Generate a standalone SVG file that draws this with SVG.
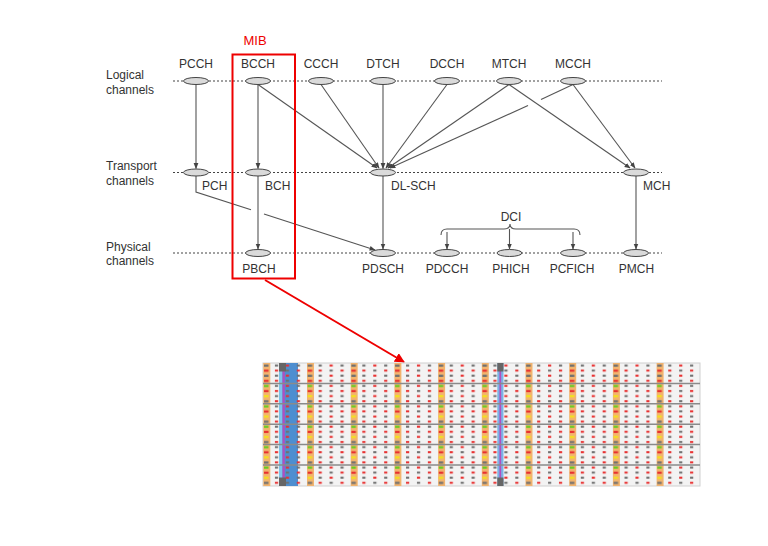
<svg xmlns="http://www.w3.org/2000/svg" width="768" height="546" viewBox="0 0 768 546">
<defs>
<style>
.t{font-family:"Liberation Sans",Arial,sans-serif;font-size:12px;fill:#333}
.c{text-anchor:middle}
.dot{stroke:#444;stroke-width:1.2;stroke-dasharray:2 2;fill:none}
.el{fill:#dadada;stroke:#444;stroke-width:1}
.ln{stroke:#555;stroke-width:1.1;fill:none}
.ar{stroke:#555;stroke-width:1.1;fill:none;marker-end:url(#ah)}
.hl{stroke:#8a8a8a;stroke-width:1.5}
</style>
<marker id="ah" viewBox="0 0 10 10" refX="9" refY="5" markerWidth="6" markerHeight="6" orient="auto" markerUnits="userSpaceOnUse"><path d="M0,1 L10,5 L0,9 z" fill="#444"/></marker>
<marker id="rah" viewBox="0 0 10 10" refX="9" refY="5" markerWidth="10" markerHeight="10" orient="auto" markerUnits="userSpaceOnUse"><path d="M0,0 L10,5 L0,10 z" fill="#e00"/></marker>
<pattern id="dash" patternUnits="userSpaceOnUse" x="263" y="363" width="21.85" height="10.2">
<rect x="1" y="1.5" width="3.2" height="2" fill="#e83030"/>
<rect x="11.9" y="1.5" width="3.2" height="2" fill="#707070"/>
<rect x="1" y="6.6" width="3.2" height="2" fill="#707070"/>
<rect x="11.9" y="6.6" width="3.2" height="2" fill="#e83030"/>
</pattern>
<pattern id="odash" patternUnits="userSpaceOnUse" x="263" y="363" width="43.7" height="20.4">
<rect x="1" y="1.5" width="4.5" height="2.2" fill="#66cc22"/>
<rect x="1" y="6.6" width="4.5" height="2.2" fill="#e83030"/>
<rect x="1" y="11.7" width="4.5" height="2.2" fill="#f2e020"/>
<rect x="1" y="16.8" width="4.5" height="2.2" fill="#707070"/>
</pattern>
<pattern id="odash0" patternUnits="userSpaceOnUse" x="263" y="363" width="43.7" height="10.2">
<rect x="1" y="1.5" width="4.5" height="2.2" fill="#707070"/>
<rect x="1" y="6.6" width="4.5" height="2.2" fill="#e83030"/>
</pattern>
</defs>
<rect width="768" height="546" fill="#fff"/>

<g id="layer-labels">
<text class="t" x="106" y="79">Logical</text>
<text class="t" x="106" y="94">channels</text>
<text class="t" x="106" y="169.5">Transport</text>
<text class="t" x="106" y="184.5">channels</text>
<text class="t" x="106" y="251">Physical</text>
<text class="t" x="106" y="265">channels</text>
</g>

<g id="dotted-lines">
<line class="dot" x1="173" y1="81" x2="662" y2="81"/>
<line class="dot" x1="173" y1="172.5" x2="662" y2="172.5"/>
<line class="dot" x1="173" y1="253" x2="662" y2="253"/>
</g>

<g id="connectors">
<line class="ar" x1="196" y1="84.5" x2="196" y2="168.5"/>
<line class="ar" x1="258" y1="84.5" x2="258" y2="168.5"/>
<line class="ar" x1="258" y1="176" x2="258" y2="249"/>
<polyline class="ln" points="196,176 196,192 251,209.8"/>
<line class="ar" x1="264" y1="214" x2="375" y2="250"/>
<line class="ar" x1="258" y1="84.5" x2="377" y2="168"/>
<line class="ar" x1="321" y1="84.5" x2="379" y2="168"/>
<line class="ar" x1="383" y1="84.5" x2="383" y2="168.5"/>
<line class="ar" x1="447" y1="84.5" x2="386" y2="168"/>
<line class="ar" x1="509" y1="84.5" x2="388" y2="168"/>
<line class="ln" x1="573" y1="84.5" x2="541" y2="99.5"/>
<line class="ar" x1="528" y1="105.5" x2="390" y2="168"/>
<line class="ar" x1="509" y1="84.5" x2="630" y2="168"/>
<line class="ar" x1="573" y1="84.5" x2="635" y2="168"/>
<line class="ar" x1="383" y1="176" x2="383" y2="249"/>
<line class="ar" x1="636" y1="176" x2="636" y2="249"/>
<path class="ln" d="M441,235 Q441,229 447,229 L504,229 Q510,229 510,224 Q510,229 516,229 L574,229 Q580,229 580,235"/>
<line class="ar" x1="447" y1="232" x2="447" y2="249"/>
<line class="ar" x1="509.5" y1="229" x2="509.5" y2="249"/>
<line class="ar" x1="573" y1="232" x2="573" y2="249"/>
<line stroke="#e00" stroke-width="2" marker-end="url(#rah)" x1="265" y1="280" x2="404" y2="362"/>
</g>

<g id="PCCH"><ellipse class="el" cx="196" cy="81" rx="12.5" ry="3.5"/><text class="t c" x="196" y="67.5">PCCH</text></g>
<g id="BCCH"><ellipse class="el" cx="258" cy="81" rx="12.5" ry="3.5"/><text class="t c" x="258" y="67.5">BCCH</text></g>
<g id="CCCH"><ellipse class="el" cx="321" cy="81" rx="12.5" ry="3.5"/><text class="t c" x="321" y="67.5">CCCH</text></g>
<g id="DTCH"><ellipse class="el" cx="383" cy="81" rx="12.5" ry="3.5"/><text class="t c" x="383" y="67.5">DTCH</text></g>
<g id="DCCH"><ellipse class="el" cx="447" cy="81" rx="12.5" ry="3.5"/><text class="t c" x="447" y="67.5">DCCH</text></g>
<g id="MTCH"><ellipse class="el" cx="509" cy="81" rx="12.5" ry="3.5"/><text class="t c" x="509" y="67.5">MTCH</text></g>
<g id="MCCH"><ellipse class="el" cx="573" cy="81" rx="12.5" ry="3.5"/><text class="t c" x="573" y="67.5">MCCH</text></g>

<g id="PCH"><ellipse class="el" cx="196" cy="172.5" rx="12.5" ry="3.5"/><text class="t" x="202" y="190">PCH</text></g>
<g id="BCH"><ellipse class="el" cx="258" cy="172.5" rx="12.5" ry="3.5"/><text class="t" x="265" y="190">BCH</text></g>
<g id="DL-SCH"><ellipse class="el" cx="383" cy="172.5" rx="12.5" ry="3.5"/><text class="t" x="391" y="190">DL-SCH</text></g>
<g id="MCH"><ellipse class="el" cx="636" cy="172.5" rx="12.5" ry="3.5"/><text class="t" x="643" y="190">MCH</text></g>

<g id="PBCH"><ellipse class="el" cx="258" cy="253" rx="12.5" ry="3.5"/><text class="t c" x="259" y="272.5">PBCH</text></g>
<g id="PDSCH"><ellipse class="el" cx="383" cy="253" rx="12.5" ry="3.5"/><text class="t c" x="383" y="272.5">PDSCH</text></g>
<g id="PDCCH"><ellipse class="el" cx="447" cy="253" rx="12.5" ry="3.5"/><text class="t c" x="447" y="272.5">PDCCH</text></g>
<g id="PHICH"><ellipse class="el" cx="509.5" cy="253" rx="12.5" ry="3.5"/><text class="t c" x="511" y="272.5">PHICH</text></g>
<g id="PCFICH"><ellipse class="el" cx="573" cy="253" rx="12.5" ry="3.5"/><text class="t c" x="572" y="272.5">PCFICH</text></g>
<g id="PMCH"><ellipse class="el" cx="636" cy="253" rx="12.5" ry="3.5"/><text class="t c" x="636.5" y="272.5">PMCH</text></g>
<g id="DCI"><text class="t c" x="511" y="221">DCI</text></g>

<g id="MIB">
<rect x="232.5" y="54.5" width="62.5" height="224" fill="none" stroke="#e00" stroke-width="2"/>
<text x="255" y="45" text-anchor="middle" font-family="'Liberation Sans',Arial,sans-serif" font-size="13" fill="#e00">MIB</text>
</g>

<g id="resource-grid">
<rect x="263" y="363" width="437" height="123" fill="#f3f3f3" stroke="#cfcfcf" stroke-width="1"/>
<rect x="279" y="363" width="19" height="123" fill="#4d8ed0"/>
<rect x="279" y="363" width="3.5" height="123" fill="#7ec4e8"/>
<rect x="282.5" y="363" width="2.3" height="123" fill="#b04fc0"/>
<rect x="497.3" y="363" width="6.2" height="123" fill="#7ab4e6"/>
<rect x="499.4" y="363" width="1.8" height="123" fill="#b04fc0"/>
<rect x="263" y="363" width="437" height="123" fill="url(#dash)"/>
<g fill="#f2b46e">
<rect x="263.3" y="363" width="7" height="123"/>
<rect x="307" y="363" width="7" height="123"/>
<rect x="350.7" y="363" width="7" height="123"/>
<rect x="394.4" y="363" width="7" height="123"/>
<rect x="438.1" y="363" width="7" height="123"/>
<rect x="481.8" y="363" width="7" height="123"/>
<rect x="525.5" y="363" width="7" height="123"/>
<rect x="569.2" y="363" width="7" height="123"/>
<rect x="612.9" y="363" width="7" height="123"/>
<rect x="656.6" y="363" width="7" height="123"/>
</g>
<rect x="263" y="363" width="437" height="20.4" fill="url(#odash0)"/>
<rect x="263" y="383.4" width="437" height="102.6" fill="url(#odash)"/>
<g fill="#666">
<rect x="279" y="363" width="7" height="8.5"/>
<rect x="279" y="477.5" width="7" height="8.5"/>
<rect x="497.3" y="363" width="6.2" height="8.5"/>
<rect x="497.3" y="477.5" width="6.2" height="8.5"/>
</g>
<g class="hl">
<line x1="263" y1="383.4" x2="700" y2="383.4"/>
<line x1="263" y1="403.8" x2="700" y2="403.8"/>
<line x1="263" y1="424.2" x2="700" y2="424.2"/>
<line x1="263" y1="444.6" x2="700" y2="444.6"/>
<line x1="263" y1="465" x2="700" y2="465"/>
</g>
</g>
</svg>
